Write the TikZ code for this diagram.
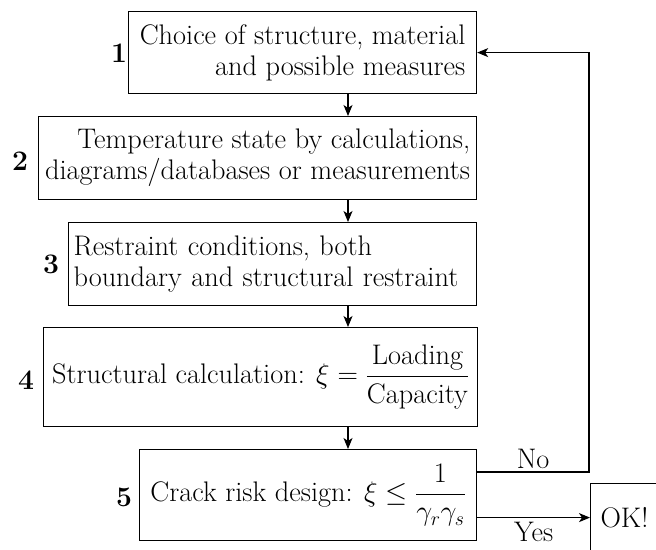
\RequirePackage{fix-cm}
\documentclass[tikz,border=0pt]{standalone}
\usepackage{amsmath}
\usepackage{fontspec}
\usetikzlibrary{arrows.meta}
\begin{document}
\begin{tikzpicture}[x=1pt,y=-1pt,
  txt/.style={font=\fontsize{28.3}{31}\selectfont},
  box/.style={txt, draw, line width=1.2pt, anchor=north west, inner sep=0pt},
  num/.style={font=\fontsize{28.3}{31}\selectfont\bfseries, inner sep=0pt},
  lbl/.style={txt, inner sep=3pt},
  arr/.style={line width=1.1pt, -{Stealth[length=11pt,width=9pt,inset=3pt]}}]
\useasboundingbox (0,0) rectangle (656,549);
\clip (0,0) rectangle (656,549);

% process steps
\node[box, minimum width=348pt, minimum height=82pt, align=right] (b1) at (128,11)
  {Choice of structure, material\\and possible measures};
\node[box, minimum width=438pt, minimum height=83pt, align=right] (b2) at (38,116)
  {Temperature state by calculations,\\diagrams/databases or measurements};
\node[box, minimum width=408pt, minimum height=83pt, text width=398pt, inner xsep=5pt, align=left] (b3) at (68,222)
  {Restraint conditions, both\\boundary and structural restraint};
\node[box, minimum width=434pt, minimum height=99pt] (b4) at (43,327)
  {Structural calculation: $\xi=\dfrac{\mbox{Loading}}{\mbox{Capacity}}$};
\node[box, minimum width=337pt, minimum height=91pt] (b5) at (139,449)
  {Crack risk design: $\xi\leq\dfrac{1}{\gamma_r\gamma_s}$};
\node[box, minimum width=110pt, minimum height=68pt, text width=90pt, inner xsep=10pt, align=left] (ok) at (590,483)
  {OK!};

% step numbers
\node[num] (n1) at (119,53) {1};
\node[num] (n2) at (20,161) {2};
\node[num] (n3) at (51,264) {3};
\node[num] (n4) at (26,380) {4};
\node[num] (n5) at (124,497) {5};

% main flow
\coordinate (xa) at (348,0);
\draw[arr] (b1.south -| xa) -- (b2.north -| xa);
\draw[arr] (b2.south -| xa) -- (b3.north -| xa);
\draw[arr] (b3.south -| xa) -- (b4.north -| xa);
\draw[arr] (b4.south -| xa) -- (b5.north -| xa);

% decision outcomes
\coordinate (turn) at (589,472);
\draw[arr] (b5.east |- turn) -- node[lbl, above] (no) {No} (turn) |- (b1.east);
\draw[arr] (b5.east |- ok.west) -- node[lbl, below, inner sep=4pt] (yes) {Yes} (ok.west);
\end{tikzpicture}
\end{document}
